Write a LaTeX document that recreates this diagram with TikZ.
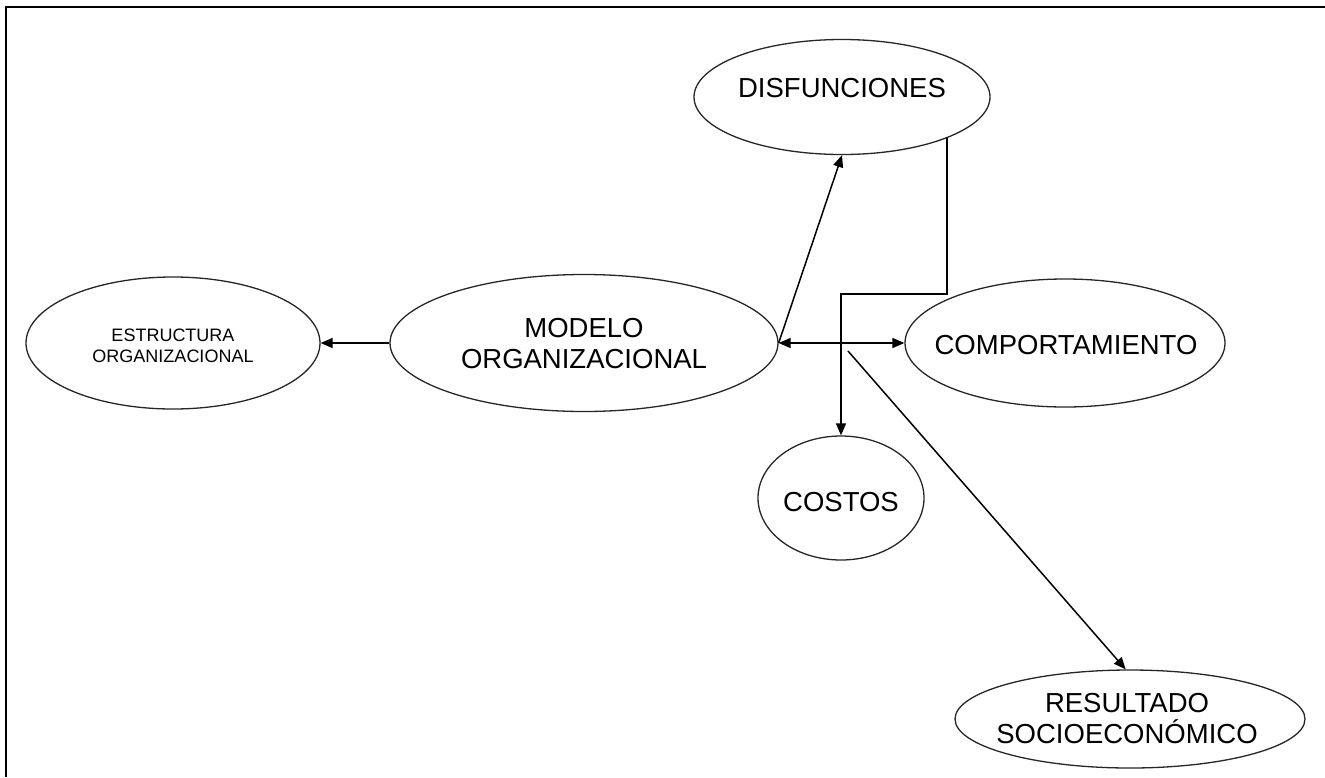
\documentclass[tikz,border=0pt]{standalone}
\usepackage{fontspec}
\setmainfont{Liberation Sans}
\usetikzlibrary{shapes.geometric,arrows.meta}
\tikzset{
  oval/.style={draw=black!85, line width=1.3pt, ellipse, inner sep=0pt},
  big/.style={align=center, font=\fontsize{27.5}{31}\selectfont, inner sep=0pt},
  small/.style={align=center, font=\fontsize{18}{21}\selectfont, inner sep=0pt},
  conn/.style={line width=1.5pt, -{Triangle[length=12pt,width=10pt]}},
  frame/.style={line width=2.2pt}
}
\begin{document}
\begin{tikzpicture}[x=1pt,y=-1pt]
\useasboundingbox (0,0) rectangle (1325,777);
\coordinate (fl) at (6,777);
\coordinate (fc) at (6,7);
\coordinate (fr) at (1325,7);
\draw[frame] (fl) -- (fc) -- (fr);

\node[oval, minimum width=294pt, minimum height=132pt] (E) at (173,343) {};
\node[oval, minimum width=388pt, minimum height=137pt] (M) at (584,343) {};
\node[oval, minimum width=296pt, minimum height=115pt] (D) at (842,97) {};
\node[oval, minimum width=320pt, minimum height=128pt] (C) at (1065,343) {};
\node[oval, minimum width=166pt, minimum height=124pt] (K) at (841,498) {};
\node[oval, minimum width=350pt, minimum height=98pt] (R) at (1130,719) {};

\node[small] (Et) at (173,346) {ESTRUCTURA\\ORGANIZACIONAL};
\node[big] (Mt) at (584,344) {MODELO\\ORGANIZACIONAL};
\node[big] (Dt) at (842,88) {DISFUNCIONES};
\node[big] (Ct) at (1066,345) {COMPORTAMIENTO};
\node[big] (Kt) at (841,502) {COSTOS};
\node[big] (Rt) at (1127,719) {RESULTADO\\SOCIOECON\'OMICO};

\coordinate (bend) at (946,294);
\coordinate (rs) at (848,351);

\draw[conn] (M.west) -- (E.east);
\draw[conn, {Triangle[length=12pt,width=10pt]}-{Triangle[length=12pt,width=10pt]}] (M.east) -- (C.west);
\draw[conn] (M.east) -- (D.south);
\draw[conn] (D.south east) -- (D.south east |- bend) -| (K.north);
\draw[conn] (rs) -- (R.95);
\end{tikzpicture}
\end{document}
